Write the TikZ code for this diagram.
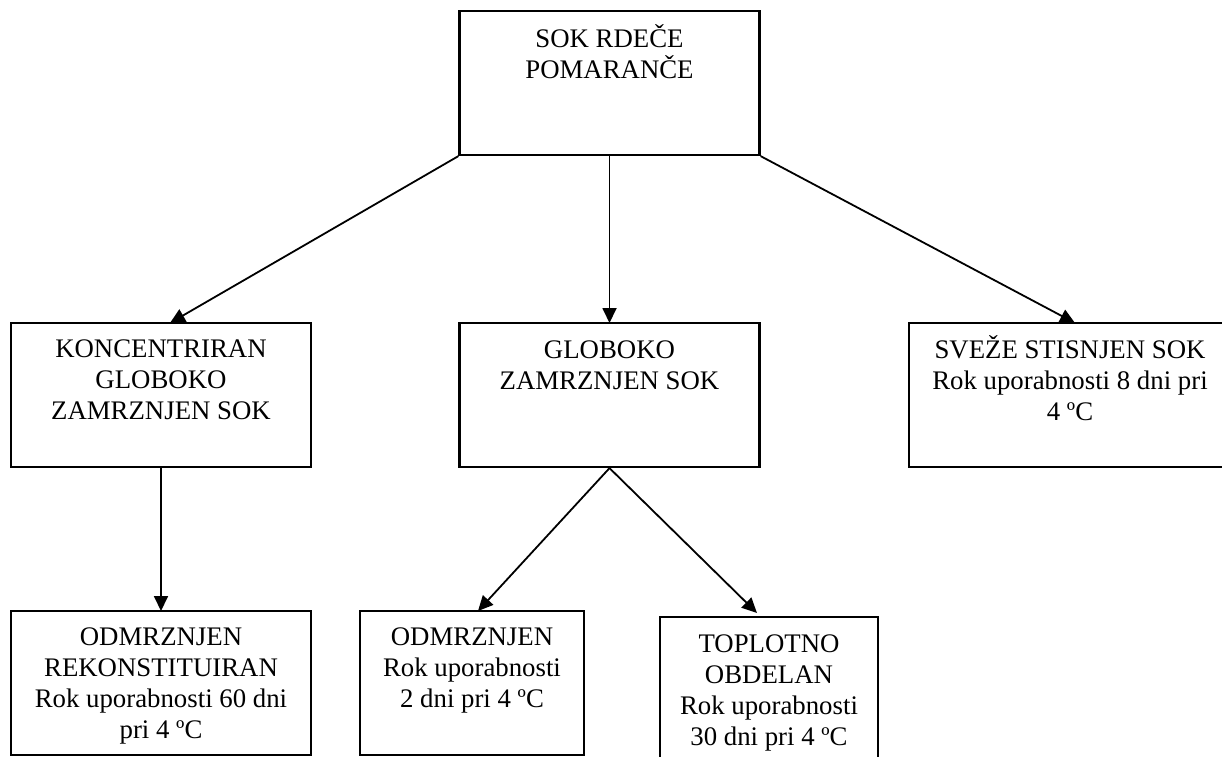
\documentclass[tikz,border=0pt]{standalone}
\usepackage{fontspec}
\setmainfont{Liberation Serif}
\usetikzlibrary{arrows.meta}
\newcommand{\boxlines}[1]{\parbox[t]{330pt}{\centering #1}}
\begin{document}
\begin{tikzpicture}[x=1pt,y=-1pt,
  box/.style={draw, line width=2.2pt, rectangle, inner sep=0pt},
  txt/.style={anchor=base, inner sep=0pt, font=\fontsize{26.8}{31}\selectfont},
  arr/.style={line width=1.8pt, -{Triangle[length=15pt,width=14pt]}}]
\clip (0,0) rectangle (1222,756);
\fill[white] (0,0) rectangle (1222,756);
% boxes
\node[box, minimum width=300pt, minimum height=144pt] (root) at (609.5,83) {};
\node[txt] (roott) at (609.5,47) {\boxlines{SOK RDEČE\\POMARANČE}};

\node[box, minimum width=300pt, minimum height=144pt] (k) at (161,395) {};
\node[txt] (kt) at (161,357) {\boxlines{KONCENTRIRAN\\GLOBOKO\\ZAMRZNJEN SOK}};

\node[box, minimum width=300pt, minimum height=144pt] (g) at (609.5,395) {};
\node[txt] (gt) at (609.5,358) {\boxlines{GLOBOKO\\ZAMRZNJEN SOK}};

\node[box, minimum width=322pt, minimum height=144pt] (s) at (1070,395) {};
\node[txt] (st) at (1070,358) {\boxlines{SVEŽE STISNJEN SOK\\Rok uporabnosti 8 dni pri\\4 ºC}};

\node[box, minimum width=300pt, minimum height=144pt] (b1) at (161,683) {};
\node[txt] (b1t) at (161,645) {\boxlines{ODMRZNJEN\\REKONSTITUIRAN\\Rok uporabnosti 60 dni\\pri 4 ºC}};

\node[box, minimum width=224pt, minimum height=144pt] (b2) at (472,683) {};
\node[txt] (b2t) at (472,645) {\boxlines{ODMRZNJEN\\Rok uporabnosti\\2 dni pri 4 ºC}};

\node[box, minimum width=218pt, minimum height=144pt] (b3) at (769,689) {};
\node[txt] (b3t) at (769,652) {\boxlines{TOPLOTNO\\OBDELAN\\Rok uporabnosti\\30 dni pri 4 ºC}};

% arrow end points
\coordinate (kin) at (170,323);
\coordinate (gin) at (609.5,323);
\coordinate (sin) at (1075,323);
\coordinate (b1in) at (161,611);
\coordinate (b2in) at (478,611);
\coordinate (b3in) at (757,613);

\draw[arr] (root.south west) -- (kin);
\draw[arr] (root.south) -- (gin);
\draw[arr] (root.south east) -- (sin);
\draw[arr] (k.south) -- (b1in);
\draw[arr] (g.south) -- (b2in);
\draw[arr] (g.south) -- (b3in);
\end{tikzpicture}
\end{document}
